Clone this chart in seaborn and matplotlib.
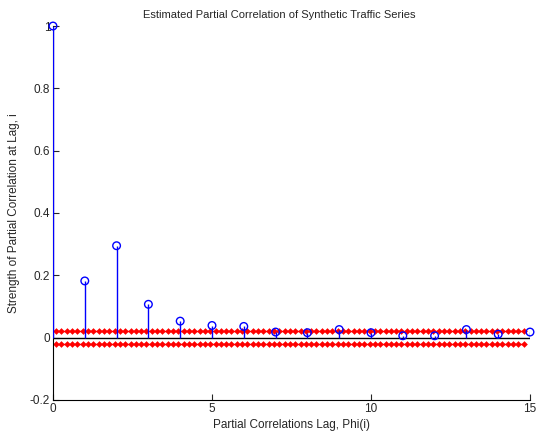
import numpy as np
import pandas as pd
import matplotlib
matplotlib.use("Agg")
import matplotlib.pyplot as plt
import seaborn as sns

lags = list(range(16))
pacf = [1.0, 0.182, 0.295, 0.107, 0.053, 0.039, 0.036, 0.018, 0.016,
        0.026, 0.016, 0.006, 0.006, 0.026, 0.011, 0.018]
conf_level = 0.02
conf_x = np.linspace(0.1, 14.8, 89)
xticks = [0, 5, 10, 15]
yticks = [-0.2, 0, 0.2, 0.4, 0.6, 0.8, 1]
ytick_labels = ["-0.2", "0", "0.2", "0.4", "0.6", "0.8", "1"]

sns.set_style("ticks")
plt.rcParams['font.family'] = ['Liberation Sans', 'DejaVu Sans']

fig = plt.figure(figsize=(5.39, 4.38), dpi=100)
ax = fig.add_axes([0.0983, 0.0868, 0.885, 0.8538])

df = pd.DataFrame({"lag": lags, "pacf": pacf})

# confidence bounds
for lvl in [conf_level, -conf_level]:
    ax.plot(conf_x, [lvl] * len(conf_x), color="red", lw=1.0, marker="D",
            markersize=3.4, markeredgewidth=0, zorder=2)

# baseline
ax.plot([0, 15], [0, 0], color="black", lw=1.0, zorder=3)

# stems
ax.vlines(df.lag, 0, df.pacf, color="blue", lw=1.0, zorder=4)
sns.scatterplot(data=df, x="lag", y="pacf", ax=ax, marker="o", s=30,
                facecolor="none", edgecolor="blue", linewidth=1.0, zorder=5,
                clip_on=False)

ax.set_xlim(0, 15)
ax.set_ylim(-0.2, 1)
ax.set_xticks(xticks)
ax.set_xticklabels([str(t) for t in xticks])
ax.set_yticks(yticks)
ax.set_yticklabels(ytick_labels)
ax.tick_params(direction="in", length=4, width=0.8, labelsize=8.5, pad=2)
sns.despine(ax=ax, top=True, right=True)
for s in ["left", "bottom"]:
    ax.spines[s].set_linewidth(0.8)
    ax.spines[s].set_color("black")

fig.text(0.519, 0.966, "Estimated Partial Correlation of Synthetic Traffic Series",
         fontsize=8, ha="center", va="center")
ax.set_xlabel("Partial Correlations Lag, Phi(i)", fontsize=8.5, labelpad=3)
ax.set_ylabel("Strength of Partial Correlation at Lag, i", fontsize=8.5)
ax.yaxis.set_label_coords(-0.069, 0.5)

fig.savefig("out.png", dpi=100)
